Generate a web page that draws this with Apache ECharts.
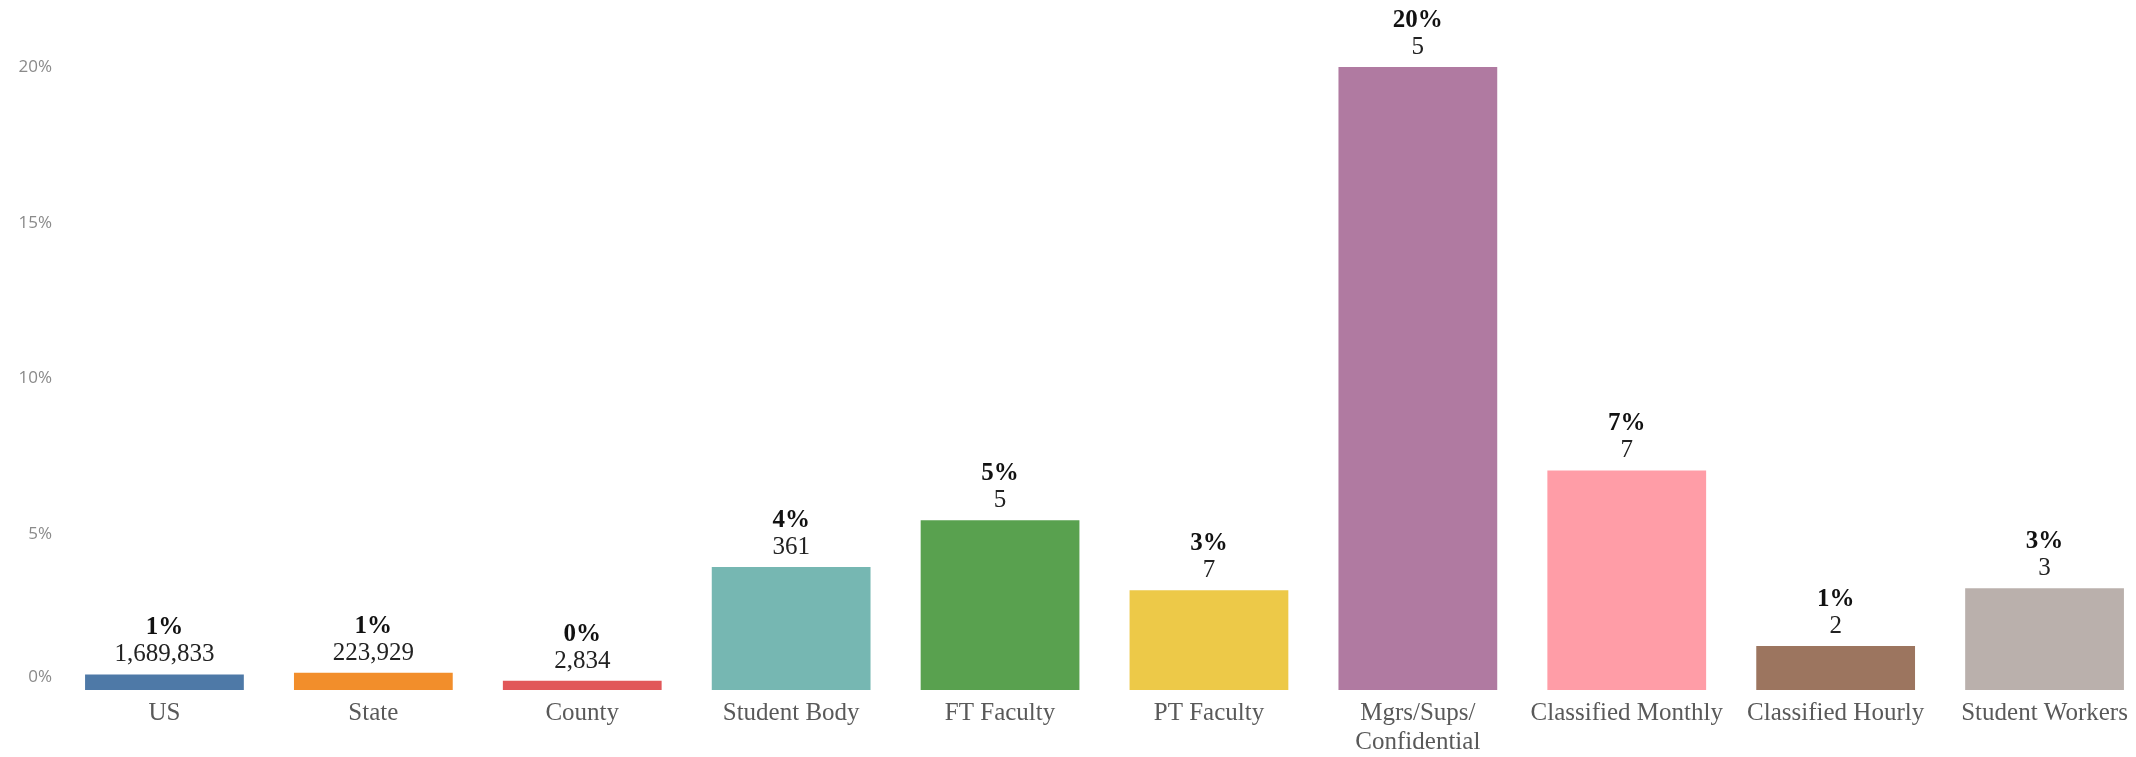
<!DOCTYPE html>
<html>
<head>
<meta charset="utf-8">
<script src="https://cdn.jsdelivr.net/npm/echarts@6/dist/echarts.min.js"></script>
<style>
  html, body { margin: 0; padding: 0; background: #fff; overflow: hidden; }
  #chart { width: 2149px; height: 757px; }
</style>
</head>
<body>
<div id="chart"></div>
<script>
// 各类别占比柱状图
var categories = ['US', 'State', 'County', 'Student Body', 'FT Faculty', 'PT Faculty',
  'Mgrs/Sups/\nConfidential', 'Classified Monthly', 'Classified Hourly', 'Student Workers'];
var percentValues = [0.5, 0.55, 0.3, 3.95, 5.45, 3.2, 20, 7.05, 1.41, 3.27];
var countValues = [1689833, 223929, 2834, 361, 5, 7, 5, 7, 2, 3];
var yTicks = [0, 5, 10, 15, 20];
var barColors = ['#4e79a7', '#f28e2b', '#e15759', '#76b7b2', '#59a14f',
  '#edc948', '#b07aa1', '#ff9da7', '#9c755f', '#bab0ac'];

var chart = echarts.init(document.getElementById('chart'));

var option = {
  animation: false,
  grid: {
    left: 60,
    right: 0,
    top: 67,
    bottom: 67,
    containLabel: false
  },
  xAxis: {
    type: 'category',
    data: categories,
    axisLine: { show: false },
    axisTick: { show: false },
    axisLabel: {
      interval: 0,
      margin: 9,
      color: '#595959',
      fontFamily: 'Liberation Serif',
      fontSize: 25,
      lineHeight: 29
    }
  },
  yAxis: {
    type: 'value',
    min: yTicks[0],
    max: yTicks[yTicks.length - 1],
    interval: 5,
    splitLine: { show: false },
    axisLine: { show: false },
    axisTick: { show: false },
    axisLabel: {
      margin: 8,
      color: '#8a8a8a',
      fontFamily: 'Open Sans',
      fontSize: 17,
      formatter: function (v) {
        if (v === 0) return '{z|0%}';
        return v + '%';
      },
      rich: {
        z: { color: '#8a8a8a', fontFamily: 'Open Sans', fontSize: 17, padding: [0, 0, 26, 0] }
      }
    }
  },
  series: [{
    type: 'bar',
    barCategoryGap: '24%',
    data: percentValues.map(function (v, i) {
      return { value: v, itemStyle: { color: barColors[i] } };
    }),
    label: {
      show: true,
      position: 'top',
      distance: 6,
      formatter: function (p) {
        return '{p|' + Math.round(p.value) + '%}\n{n|' + countValues[p.dataIndex].toLocaleString('en-US') + '}';
      },
      rich: {
        p: { fontFamily: 'Liberation Serif', fontSize: 25, fontWeight: 'bold', color: '#111', lineHeight: 27 },
        n: { fontFamily: 'Liberation Serif', fontSize: 25, color: '#222', lineHeight: 27 }
      }
    }
  }]
};

chart.setOption(option);
</script>
</body>
</html>
